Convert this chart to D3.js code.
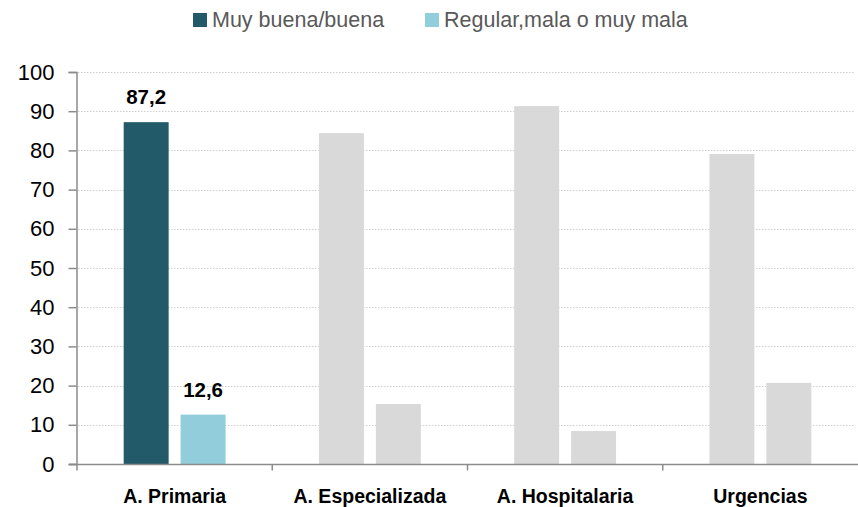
<!DOCTYPE html>
<html>
<head>
<meta charset="utf-8">
<script src="https://cdn.jsdelivr.net/npm/d3@7"></script>
<style>
  body { margin: 0; background: #fff; }
  text { font-family: "Liberation Sans", Arial, sans-serif; }
</style>
</head>
<body>
<div class="vis-bars"></div>
<script>
const categories = ['A. Primaria', 'A. Especializada', 'A. Hospitalaria', 'Urgencias'];
const seriesNames = ['Muy buena/buena', 'Regular,mala o muy mala'];
const buena = [87.2, 84.4, 91.3, 79.1];
const regular = [12.6, 15.3, 8.4, 20.7];
const yTicks = [0, 10, 20, 30, 40, 50, 60, 70, 80, 90, 100];

const width = 858, height = 507;
const margin = { top: 72, right: 0, bottom: 43, left: 77 };

const svg = d3.select('.vis-bars')
    .append('svg')
    .attr('width', width)
    .attr('height', height);

const x0 = d3.scaleBand()
    .domain(categories)
    .range([margin.left, width - margin.right])
    .padding(0);

const x1 = d3.scaleBand()
    .domain([0, 1])
    .range([0, x0.bandwidth()])
    .paddingInner(0.21)
    .paddingOuter(0.82);

const y = d3.scaleLinear()
    .domain([0, 100])
    .range([height - margin.bottom, margin.top]);

// dotted gridlines
svg.append('g')
    .selectAll('line')
    .data(yTicks.filter(d => d > 0))
    .enter().append('line')
    .attr('x1', margin.left + 1)
    .attr('x2', width - 3)
    .attr('y1', d => Math.round(y(d)) + 0.5)
    .attr('y2', d => Math.round(y(d)) + 0.5)
    .attr('stroke', '#d0d0d0')
    .attr('stroke-width', 1)
    .attr('stroke-dasharray', '1.5,1.5');

// bars
const rows = categories.map((c, i) => ({ cat: c, i: i, vals: [buena[i], regular[i]] }));
const colors = ['#225a69', '#92cddc'];
const grey = '#d9d9d9';

const groups = svg.append('g')
    .selectAll('g')
    .data(rows)
    .enter().append('g')
    .attr('transform', d => 'translate(' + x0(d.cat) + ',0)');

groups.selectAll('rect')
    .data(d => d.vals.map((v, k) => ({ v: v, k: k, first: d.i === 0 })))
    .enter().append('rect')
    .attr('x', d => x1(d.k))
    .attr('width', x1.bandwidth())
    .attr('y', d => y(d.v))
    .attr('height', d => y(0) - y(d.v))
    .attr('fill', d => d.first ? colors[d.k] : grey);

// value labels only on the highlighted category
groups.filter(d => d.i === 0)
    .selectAll('text')
    .data(d => d.vals.map((v, k) => ({ v: v, k: k })))
    .enter().append('text')
    .attr('x', d => x1(d.k) + x1.bandwidth() / 2)
    .attr('y', d => y(d.v) - 18)
    .attr('text-anchor', 'middle')
    .style('font-size', '20.5px')
    .style('font-weight', 'bold')
    .attr('fill', '#000')
    .text(d => d3.format('.1f')(d.v).replace('.', ','));

// y axis
const yAxis = svg.append('g')
    .attr('transform', 'translate(' + (margin.left - 0.5) + ',0)')
    .call(d3.axisLeft(y).tickValues(yTicks).tickSize(8).tickPadding(14));
yAxis.select('.domain').attr('stroke', '#8c8c8c').attr('stroke-width', 1.5);
yAxis.selectAll('.tick line').attr('stroke', '#8c8c8c').attr('stroke-width', 1.5);
yAxis.selectAll('.tick text')
    .style('font-size', '22px')
    .style('font-family', '"Liberation Sans", Arial, sans-serif')
    .attr('fill', '#000');

// x axis
const xAxis = svg.append('g')
    .attr('transform', 'translate(0,' + (y(0) + 0.5) + ')');
xAxis.append('line')
    .attr('x1', margin.left - 8)
    .attr('x2', width)
    .attr('stroke', '#8c8c8c')
    .attr('stroke-width', 1.5);
xAxis.selectAll('.sep')
    .data(categories)
    .enter().append('line')
    .attr('class', 'sep')
    .attr('x1', d => x0(d))
    .attr('x2', d => x0(d))
    .attr('y1', 0)
    .attr('y2', 6)
    .attr('stroke', '#8c8c8c')
    .attr('stroke-width', 1.5);
xAxis.selectAll('.lab')
    .data(categories)
    .enter().append('text')
    .attr('class', 'lab')
    .attr('x', d => x0(d) + x0.bandwidth() / 2)
    .attr('y', 38)
    .attr('text-anchor', 'middle')
    .style('font-size', '19.5px')
    .style('font-weight', 'bold')
    .attr('fill', '#000')
    .text(d => d);

// legend
const legendX = [193, 425];
const legend = svg.selectAll('.legend')
    .data(seriesNames)
    .enter().append('g')
    .attr('class', 'legend')
    .attr('transform', (d, i) => 'translate(' + legendX[i] + ',13)');
legend.append('rect')
    .attr('width', 14)
    .attr('height', 14)
    .attr('fill', (d, i) => colors[i]);
legend.append('text')
    .attr('x', 19)
    .attr('y', 14)
    .style('font-size', '21.5px')
    .attr('fill', '#595959')
    .text(d => d);
</script>
</body>
</html>
